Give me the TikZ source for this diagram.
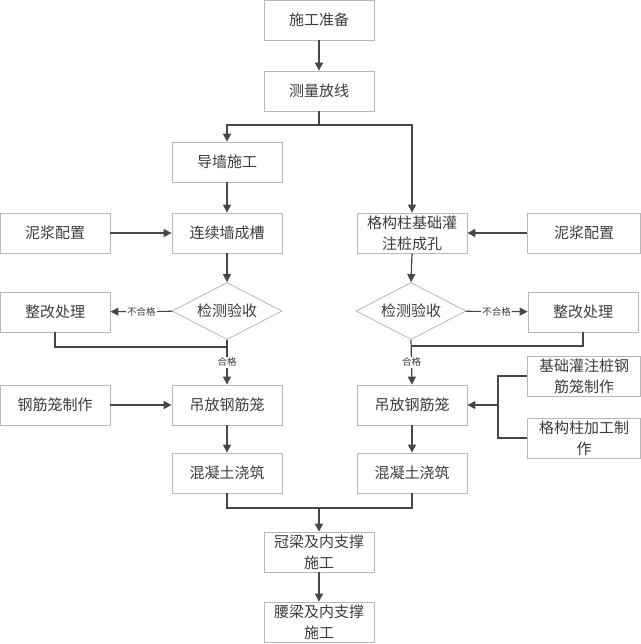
\documentclass[tikz,border=0pt]{standalone}
\usepackage{fontspec}
\newfontfamily\cjk{Noto Sans CJK SC}
\usetikzlibrary{arrows.meta,shapes.geometric}
\definecolor{boxline}{HTML}{B8B8B8}
\definecolor{arrline}{HTML}{474747}
\definecolor{txt}{HTML}{3C3C3C}
\begin{document}
\begin{tikzpicture}[x=1pt,y=-1pt,
	box/.style={draw=boxline,line width=0.8pt,minimum width=110pt,minimum height=40pt,inner sep=0pt,align=center,text=txt,font=\cjk\fontsize{15}{21}\selectfont},
	widebox/.style={box,minimum width=113pt},
	check/.style={draw=boxline,line width=0.8pt,diamond,aspect=2,minimum width=110pt,minimum height=57pt,inner sep=0pt,text=txt,font=\cjk\fontsize{15}{21}\selectfont},
	flow/.style={draw=arrline,line width=1.2pt},
	tag/.style={fill=white,inner sep=1pt,text=txt,font=\cjk\fontsize{9.5}{11}\selectfont},
	>={Triangle[length=8pt,width=8pt]}]
	\useasboundingbox (0,0) rectangle (640,644);

	\node[box] (prep) at (319,20) {施工准备};
	\node[box] (survey) at (319,91) {测量放线};
	\node[box] (guide) at (227,162) {导墙施工};
	\node[box] (slurryL) at (55,233) {泥浆配置};
	\node[box] (trench) at (227,233) {连续墙成槽};
	\node[box] (pile) at (412,233) {格构柱基础灌\\注桩成孔};
	\node[widebox] (slurryR) at (584,233) {泥浆配置};
	\node[check] (chkL) at (227,311) {检测验收};
	\node[box] (fixL) at (55,312) {整改处理};
	\node[check] (chkR) at (411,311) {检测验收};
	\node[box] (fixR) at (583,312) {整改处理};
	\node[box] (cageL) at (55,405) {钢筋笼制作};
	\node[box] (hoistL) at (227,405) {吊放钢筋笼};
	\node[box] (hoistR) at (412,405) {吊放钢筋笼};
	\node[widebox] (cageR) at (584,376) {基础灌注桩钢\\筋笼制作};
	\node[widebox] (lattice) at (584,438) {格构柱加工制\\作};
	\node[box] (concL) at (227,473) {混凝土浇筑};
	\node[box] (concR) at (412,473) {混凝土浇筑};
	\node[box] (crown) at (319,552) {冠梁及内支撑\\施工};
	\node[box] (waist) at (319,622) {腰梁及内支撑\\施工};

	\coordinate (split) at (319,125);
	\coordinate (joinL) at (227,347);
	\coordinate (joinR) at (411,346);
	\coordinate (brk) at (498,405);
	\coordinate (joinB) at (319,508);

	\draw[flow,->] (prep) -- (survey);
	\draw[flow] (survey) -- (split);
	\draw[flow,->] (split) -| (guide);
	\draw[flow,->] (split) -| (pile);
	\draw[flow,->] (guide) -- (trench);
	\draw[flow,->] (slurryL) -- (trench);
	\draw[flow,->] (slurryR) -- (pile);
	\draw[flow,->] (trench) -- (chkL);
	\draw[flow,->] (pile.south) -- (chkR.north);
	\draw[flow,->] (chkL) -- node[tag] {不合格} (fixL);
	\draw[flow,->] (chkR) -- node[tag] {不合格} (fixR);
	\draw[flow] (fixL.south) |- (joinL);
	\draw[flow] (fixR.south) |- (joinR);
	\draw[flow,->] (chkL.south) -- node[tag] {合格} (hoistL.north);
	\draw[flow,->] (chkR.south) -- node[tag] {合格} (hoistR.north);
	\draw[flow,->] (cageL) -- (hoistL);
	\draw[flow] (cageR.west) -| (brk) |- (lattice.west);
	\draw[flow,->] (brk) -- (hoistR.east);
	\draw[flow,->] (hoistL) -- (concL);
	\draw[flow,->] (hoistR) -- (concR);
	\draw[flow] (concL.south) |- (concR.south |- joinB) -- (concR.south);
	\draw[flow,->] (joinB) -- (crown);
	\draw[flow,->] (crown) -- (waist);

\end{tikzpicture}
\end{document}
